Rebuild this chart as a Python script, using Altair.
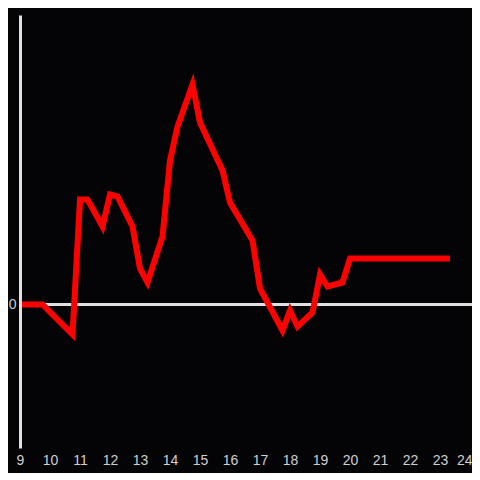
import altair as alt
import pandas as pd

hours = [9.0, 9.75, 10.75, 11.0, 11.25, 11.75, 12.0, 12.25, 12.75, 13.0, 13.25, 13.75,
         14.0, 14.25, 14.75, 15.0, 15.75, 16.0, 16.75, 17.0, 17.75, 18.0, 18.25, 18.75,
         19.0, 19.25, 19.75, 20.0, 23.33]
values = [0.0, 0.0, -3.0, 10.5, 10.5, 7.8, 11.0, 10.8, 7.8, 3.6, 2.2, 6.8,
          14.4, 17.8, 22.0, 18.2, 13.4, 10.2, 6.4, 1.6, -2.6, -0.6, -2.2, -0.8,
          3.0, 1.8, 2.2, 4.6, 4.6]
x_ticks = list(range(9, 25))
y_ticks = [0]

df = pd.DataFrame({"hour": hours, "value": values})

xs = alt.Scale(domain=[9, 9 + 452 / 30], nice=False, zero=False)
ys = alt.Scale(domain=[-14.35, 28.95], nice=False, zero=False)

y_axis = alt.Axis(values=y_ticks, domain=True, domainColor="#e0e0e0", domainWidth=3,
                  ticks=False, grid=False, labelColor="#d0d0d0", labelFontSize=14,
                  labelFont="Liberation Sans", labelPadding=4, zindex=1)
x_axis = alt.Axis(values=x_ticks, domain=False, ticks=False, grid=False,
                  labelColor="#d0d0d0", labelFontSize=14, labelFont="Liberation Sans",
                  labelPadding=5, labelFlush=False, zindex=1,
                  labelAlign=alt.ExprRef(expr="datum.value >= 24 ? 'right' : 'center'"),
                  labelOffset=alt.ExprRef(expr="datum.value >= 24 ? 2 : 0"))

zero_rule = alt.Chart(pd.DataFrame({"z": [0]})).mark_rule(
    color="#e0e0e0", strokeWidth=3
).encode(y=alt.Y("z:Q", scale=ys, axis=y_axis, title=None))

line = alt.Chart(df).mark_line(
    color="#ff0000", strokeWidth=6, strokeJoin="miter", strokeCap="butt"
).encode(
    x=alt.X("hour:Q", scale=xs, title=None, axis=x_axis),
    y=alt.Y("value:Q", scale=ys, title=None, axis=y_axis),
)

chart = alt.layer(zero_rule, line).properties(
    width=452, height=433,
    background="#040306",
    autosize=alt.AutoSizeParams(type="none"),
    padding={"left": 12, "top": 7, "right": 0, "bottom": 25},
).configure_view(stroke=None)

chart.save("out.html", embed_options={"renderer": "svg", "actions": False})
